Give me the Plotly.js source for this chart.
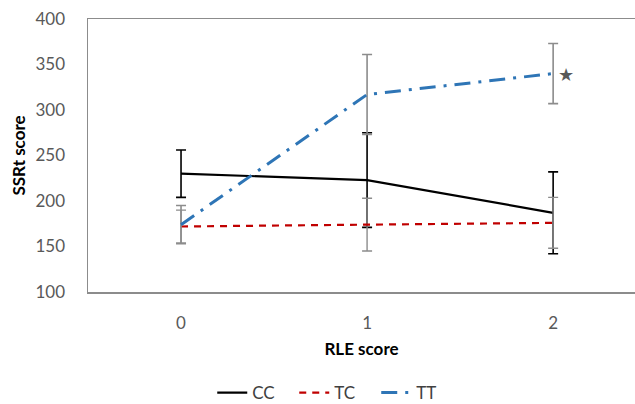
<!DOCTYPE html>
<html>
<head>
<meta charset="utf-8">
<script src="https://cdn.plot.ly/plotly-3.0.1.min.js"></script>
<style>html,body{margin:0;padding:0;background:#fff;overflow:hidden;}#chart{width:635px;height:404px;}</style>
</head>
<body>
<div id="chart"></div>
<script>
const categories = [0, 1, 2];
const ccValues = [230, 223, 187];
const ccErrors = [26, 52, 45];
const tcValues = [172, 174, 176];
const tcErrors = [18, 29, 28];
const ttValues = [174, 317, 340];
const ttErrors = [21, 44, 33];
const yTicks = [100, 150, 200, 250, 300, 350, 400];
const starPoint = {x: 2, y: 340};

const traces = [
  {
    name: 'CC', x: categories, y: ccValues, type: 'scatter', mode: 'lines',
    line: {color: '#000000', width: 2.2},
    error_y: {type: 'data', array: ccErrors, visible: true, color: '#000000', thickness: 1.6, width: 5}
  },
  {
    name: 'TC', x: categories, y: tcValues, type: 'scatter', mode: 'lines',
    line: {color: '#C00000', width: 2.2, dash: '7px,6px'},
    error_y: {type: 'data', array: tcErrors, visible: true, color: '#8c8c8c', thickness: 1.4, width: 5}
  },
  {
    name: 'TT', x: categories, y: ttValues, type: 'scatter', mode: 'lines',
    line: {color: '#2E75B6', width: 3, dash: '16px,8px,3px,8px'},
    error_y: {type: 'data', array: ttErrors, visible: true, color: '#8c8c8c', thickness: 1.6, width: 5}
  }
];

const fam = 'Lato, "Open Sans", sans-serif';
const font = {family: fam, color: '#595959', size: 17};

const layout = {
  width: 635, height: 404,
  margin: {l: 88, r: 0, t: 19, b: 112, autoexpand: false},
  paper_bgcolor: '#ffffff', plot_bgcolor: '#ffffff',
  font: font,
  showlegend: true,
  legend: {orientation: 'h', x: 0.452, xanchor: 'center', y: -0.37, yanchor: 'middle',
           entrywidth: 37, entrywidthmode: 'pixels',
           font: {family: fam, color: '#404040', size: 17}, traceorder: 'normal'},
  xaxis: {
    range: [-0.5, 2.44], tickvals: categories, ticktext: categories.map(String),
    showgrid: false, zeroline: false, showline: true, mirror: true,
    linecolor: '#8c8c8c', linewidth: 1.5, ticks: '', ticklabelstandoff: 15,
    tickfont: font,
    title: {text: 'RLE score', font: {family: fam, color: '#000000', size: 17, weight: 'bold'}, standoff: 11}
  },
  yaxis: {
    range: [100, 400], tickvals: yTicks, ticktext: yTicks.map(String),
    showgrid: false, zeroline: false, showline: true, mirror: false,
    linecolor: '#8c8c8c', linewidth: 1.5, ticks: '', ticklabelstandoff: 18,
    tickfont: font,
    title: {text: 'SSRt score', font: {family: fam, color: '#000000', size: 17, weight: 'bold'}, standoff: 5}
  },
  annotations: [{
    x: starPoint.x, y: starPoint.y, xref: 'x', yref: 'y', text: '★', showarrow: false,
    xshift: 13, font: {color: '#595959', size: 18}
  }]
};

Plotly.newPlot('chart', traces, layout, {displayModeBar: false, staticPlot: true});
</script>
</body>
</html>
